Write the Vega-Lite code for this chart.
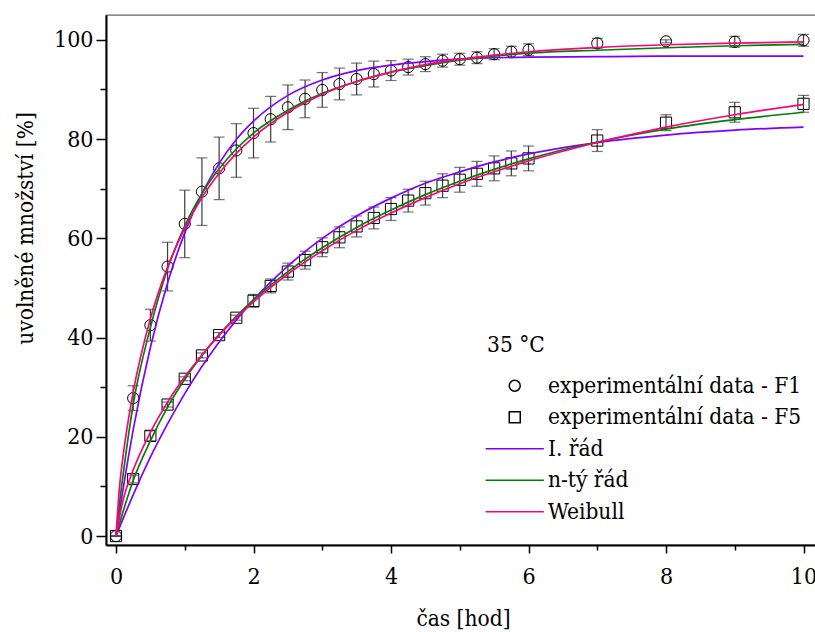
{
  "$schema": "https://vega.github.io/schema/vega-lite/v6.json",
  "width": 714,
  "height": 530,
  "autosize": {"type": "none"},
  "padding": {"left": 106, "top": 15, "right": 0, "bottom": 87},
  "config": {
    "font": "DejaVu Serif Condensed",
    "view": {"stroke": "#666", "strokeWidth": 1.3},
    "axis": {
      "labelFont": "DejaVu Serif Condensed", "titleFont": "DejaVu Serif Condensed",
      "labelFontSize": 23, "titleFontSize": 22.5, "titleFontWeight": "normal",
      "labelColor": "black", "titleColor": "black",
      "domainColor": "black", "domainWidth": 2, "tickColor": "black", "tickWidth": 1.5,
      "grid": false
    },
    "legend": {"labelFont": "DejaVu Serif Condensed", "titleFont": "DejaVu Serif Condensed"}
  },
  "datasets": {
    "points": [
      {"t": 0, "v": 0, "e": 0, "series": "experimentální data - F1"},
      {"t": 0.25, "v": 27.8, "e": 2.5, "series": "experimentální data - F1"},
      {"t": 0.5, "v": 42.5, "e": 3.2, "series": "experimentální data - F1"},
      {"t": 0.75, "v": 54.3, "e": 4.9, "series": "experimentální data - F1"},
      {"t": 1, "v": 62.9, "e": 6.8, "series": "experimentální data - F1"},
      {"t": 1.25, "v": 69.4, "e": 6.8, "series": "experimentální data - F1"},
      {"t": 1.5, "v": 74.1, "e": 6.3, "series": "experimentální data - F1"},
      {"t": 1.75, "v": 77.7, "e": 5.4, "series": "experimentální data - F1"},
      {"t": 2, "v": 81.2, "e": 5.0, "series": "experimentální data - F1"},
      {"t": 2.25, "v": 84.0, "e": 4.6, "series": "experimentální data - F1"},
      {"t": 2.5, "v": 86.4, "e": 4.5, "series": "experimentální data - F1"},
      {"t": 2.75, "v": 88.1, "e": 3.8, "series": "experimentální data - F1"},
      {"t": 3, "v": 89.9, "e": 3.5, "series": "experimentální data - F1"},
      {"t": 3.25, "v": 91.1, "e": 3.2, "series": "experimentální data - F1"},
      {"t": 3.5, "v": 92.1, "e": 3.2, "series": "experimentální data - F1"},
      {"t": 3.75, "v": 93.1, "e": 2.6, "series": "experimentální data - F1"},
      {"t": 4, "v": 93.8, "e": 2.0, "series": "experimentální data - F1"},
      {"t": 4.25, "v": 94.5, "e": 1.6, "series": "experimentální data - F1"},
      {"t": 4.5, "v": 95.1, "e": 1.5, "series": "experimentální data - F1"},
      {"t": 4.75, "v": 95.8, "e": 1.3, "series": "experimentální data - F1"},
      {"t": 5, "v": 96.1, "e": 1.2, "series": "experimentální data - F1"},
      {"t": 5.25, "v": 96.4, "e": 1.2, "series": "experimentální data - F1"},
      {"t": 5.5, "v": 97.1, "e": 1.1, "series": "experimentální data - F1"},
      {"t": 5.75, "v": 97.6, "e": 1.1, "series": "experimentální data - F1"},
      {"t": 6, "v": 98.0, "e": 1.2, "series": "experimentální data - F1"},
      {"t": 7, "v": 99.3, "e": 1.0, "series": "experimentální data - F1"},
      {"t": 8, "v": 99.7, "e": 0.3, "series": "experimentální data - F1"},
      {"t": 9, "v": 99.6, "e": 1.1, "series": "experimentální data - F1"},
      {"t": 10, "v": 99.9, "e": 1.2, "series": "experimentální data - F1"},
      {"t": 0, "v": 0, "e": 0, "series": "experimentální data - F5"},
      {"t": 0.25, "v": 11.5, "e": 0.8, "series": "experimentální data - F5"},
      {"t": 0.5, "v": 20.2, "e": 1.0, "series": "experimentální data - F5"},
      {"t": 0.75, "v": 26.5, "e": 0.5, "series": "experimentální data - F5"},
      {"t": 1, "v": 31.7, "e": 0.4, "series": "experimentální data - F5"},
      {"t": 1.25, "v": 36.4, "e": 0.5, "series": "experimentální data - F5"},
      {"t": 1.5, "v": 40.5, "e": 0.5, "series": "experimentální data - F5"},
      {"t": 1.75, "v": 44.0, "e": 0.5, "series": "experimentální data - F5"},
      {"t": 2, "v": 47.4, "e": 1.3, "series": "experimentální data - F5"},
      {"t": 2.25, "v": 50.4, "e": 1.4, "series": "experimentální data - F5"},
      {"t": 2.5, "v": 53.3, "e": 1.7, "series": "experimentální data - F5"},
      {"t": 2.75, "v": 55.6, "e": 1.8, "series": "experimentální data - F5"},
      {"t": 3, "v": 58.2, "e": 1.9, "series": "experimentální data - F5"},
      {"t": 3.25, "v": 60.2, "e": 2.1, "series": "experimentální data - F5"},
      {"t": 3.5, "v": 62.4, "e": 2.1, "series": "experimentální data - F5"},
      {"t": 3.75, "v": 64.1, "e": 2.2, "series": "experimentální data - F5"},
      {"t": 4, "v": 65.9, "e": 2.3, "series": "experimentální data - F5"},
      {"t": 4.25, "v": 67.6, "e": 2.3, "series": "experimentální data - F5"},
      {"t": 4.5, "v": 69.1, "e": 2.4, "series": "experimentální data - F5"},
      {"t": 4.75, "v": 70.6, "e": 2.4, "series": "experimentální data - F5"},
      {"t": 5, "v": 71.8, "e": 2.5, "series": "experimentální data - F5"},
      {"t": 5.25, "v": 73.0, "e": 2.5, "series": "experimentální data - F5"},
      {"t": 5.5, "v": 74.1, "e": 2.5, "series": "experimentální data - F5"},
      {"t": 5.75, "v": 75.1, "e": 2.5, "series": "experimentální data - F5"},
      {"t": 6, "v": 76.1, "e": 2.5, "series": "experimentální data - F5"},
      {"t": 7, "v": 79.7, "e": 2.2, "series": "experimentální data - F5"},
      {"t": 8, "v": 83.3, "e": 1.6, "series": "experimentální data - F5"},
      {"t": 9, "v": 85.4, "e": 2.0, "series": "experimentální data - F5"},
      {"t": 10, "v": 87.1, "e": 1.7, "series": "experimentální data - F5"}
    ],
    "curves": [
      {"grp": "F1", "series": "I. řád", "t": 0, "v": 0},
      {"grp": "F1", "series": "I. řád", "t": 0.05, "v": 4.7},
      {"grp": "F1", "series": "I. řád", "t": 0.1, "v": 9.2},
      {"grp": "F1", "series": "I. řád", "t": 0.25, "v": 21.4},
      {"grp": "F1", "series": "I. řád", "t": 0.5, "v": 38.0},
      {"grp": "F1", "series": "I. řád", "t": 0.75, "v": 51.0},
      {"grp": "F1", "series": "I. řád", "t": 1, "v": 61.1},
      {"grp": "F1", "series": "I. řád", "t": 1.25, "v": 69.0},
      {"grp": "F1", "series": "I. řád", "t": 1.5, "v": 75.1},
      {"grp": "F1", "series": "I. řád", "t": 1.75, "v": 79.9},
      {"grp": "F1", "series": "I. řád", "t": 2, "v": 83.6},
      {"grp": "F1", "series": "I. řád", "t": 2.5, "v": 88.8},
      {"grp": "F1", "series": "I. řád", "t": 3, "v": 91.9},
      {"grp": "F1", "series": "I. řád", "t": 3.5, "v": 93.8},
      {"grp": "F1", "series": "I. řád", "t": 4, "v": 94.9},
      {"grp": "F1", "series": "I. řád", "t": 4.5, "v": 95.6},
      {"grp": "F1", "series": "I. řád", "t": 5, "v": 96.1},
      {"grp": "F1", "series": "I. řád", "t": 6, "v": 96.5},
      {"grp": "F1", "series": "I. řád", "t": 7, "v": 96.6},
      {"grp": "F1", "series": "I. řád", "t": 8, "v": 96.7},
      {"grp": "F1", "series": "I. řád", "t": 9, "v": 96.7},
      {"grp": "F1", "series": "I. řád", "t": 10, "v": 96.7},
      {"grp": "F5", "series": "I. řád", "t": 0, "v": 0},
      {"grp": "F5", "series": "I. řád", "t": 0.1, "v": 3.4},
      {"grp": "F5", "series": "I. řád", "t": 0.25, "v": 8.3},
      {"grp": "F5", "series": "I. řád", "t": 0.5, "v": 15.9},
      {"grp": "F5", "series": "I. řád", "t": 0.75, "v": 22.6},
      {"grp": "F5", "series": "I. řád", "t": 1, "v": 28.7},
      {"grp": "F5", "series": "I. řád", "t": 1.5, "v": 39.1},
      {"grp": "F5", "series": "I. řád", "t": 2, "v": 47.6},
      {"grp": "F5", "series": "I. řád", "t": 2.5, "v": 54.4},
      {"grp": "F5", "series": "I. řád", "t": 3, "v": 60.0},
      {"grp": "F5", "series": "I. řád", "t": 3.5, "v": 64.5},
      {"grp": "F5", "series": "I. řád", "t": 4, "v": 68.1},
      {"grp": "F5", "series": "I. řád", "t": 4.5, "v": 71.1},
      {"grp": "F5", "series": "I. řád", "t": 5, "v": 73.4},
      {"grp": "F5", "series": "I. řád", "t": 5.5, "v": 75.4},
      {"grp": "F5", "series": "I. řád", "t": 6, "v": 77.0},
      {"grp": "F5", "series": "I. řád", "t": 7, "v": 79.3},
      {"grp": "F5", "series": "I. řád", "t": 8, "v": 80.8},
      {"grp": "F5", "series": "I. řád", "t": 9, "v": 81.8},
      {"grp": "F5", "series": "I. řád", "t": 10, "v": 82.4},
      {"grp": "F1", "series": "n-tý řád", "t": 0, "v": 0},
      {"grp": "F1", "series": "n-tý řád", "t": 0.05, "v": 6.5},
      {"grp": "F1", "series": "n-tý řád", "t": 0.1, "v": 12.0},
      {"grp": "F1", "series": "n-tý řád", "t": 0.25, "v": 26.5},
      {"grp": "F1", "series": "n-tý řád", "t": 0.5, "v": 42.0},
      {"grp": "F1", "series": "n-tý řád", "t": 0.75, "v": 53.8},
      {"grp": "F1", "series": "n-tý řád", "t": 1, "v": 62.5},
      {"grp": "F1", "series": "n-tý řád", "t": 1.25, "v": 69.0},
      {"grp": "F1", "series": "n-tý řád", "t": 1.5, "v": 74.0},
      {"grp": "F1", "series": "n-tý řád", "t": 1.75, "v": 78.0},
      {"grp": "F1", "series": "n-tý řád", "t": 2, "v": 81.2},
      {"grp": "F1", "series": "n-tý řád", "t": 2.5, "v": 85.8},
      {"grp": "F1", "series": "n-tý řád", "t": 3, "v": 89.2},
      {"grp": "F1", "series": "n-tý řád", "t": 3.5, "v": 91.6},
      {"grp": "F1", "series": "n-tý řád", "t": 4, "v": 93.5},
      {"grp": "F1", "series": "n-tý řád", "t": 4.5, "v": 94.8},
      {"grp": "F1", "series": "n-tý řád", "t": 5, "v": 95.9},
      {"grp": "F1", "series": "n-tý řád", "t": 5.5, "v": 96.7},
      {"grp": "F1", "series": "n-tý řád", "t": 6, "v": 97.3},
      {"grp": "F1", "series": "n-tý řád", "t": 7, "v": 97.9},
      {"grp": "F1", "series": "n-tý řád", "t": 8, "v": 98.4},
      {"grp": "F1", "series": "n-tý řád", "t": 9, "v": 98.8},
      {"grp": "F1", "series": "n-tý řád", "t": 10, "v": 99.1},
      {"grp": "F5", "series": "n-tý řád", "t": 0, "v": 0},
      {"grp": "F5", "series": "n-tý řád", "t": 0.1, "v": 4.8},
      {"grp": "F5", "series": "n-tý řád", "t": 0.25, "v": 11.2},
      {"grp": "F5", "series": "n-tý řád", "t": 0.5, "v": 19.2},
      {"grp": "F5", "series": "n-tý řád", "t": 0.75, "v": 26.0},
      {"grp": "F5", "series": "n-tý řád", "t": 1, "v": 31.6},
      {"grp": "F5", "series": "n-tý řád", "t": 1.25, "v": 36.4},
      {"grp": "F5", "series": "n-tý řád", "t": 1.5, "v": 40.6},
      {"grp": "F5", "series": "n-tý řád", "t": 1.75, "v": 44.3},
      {"grp": "F5", "series": "n-tý řád", "t": 2, "v": 47.6},
      {"grp": "F5", "series": "n-tý řád", "t": 2.5, "v": 53.3},
      {"grp": "F5", "series": "n-tý řád", "t": 3, "v": 58.1},
      {"grp": "F5", "series": "n-tý řád", "t": 3.5, "v": 62.2},
      {"grp": "F5", "series": "n-tý řád", "t": 4, "v": 65.7},
      {"grp": "F5", "series": "n-tý řád", "t": 4.5, "v": 68.8},
      {"grp": "F5", "series": "n-tý řád", "t": 5, "v": 71.5},
      {"grp": "F5", "series": "n-tý řád", "t": 5.5, "v": 73.9},
      {"grp": "F5", "series": "n-tý řád", "t": 6, "v": 76.0},
      {"grp": "F5", "series": "n-tý řád", "t": 7, "v": 79.4},
      {"grp": "F5", "series": "n-tý řád", "t": 8, "v": 82.0},
      {"grp": "F5", "series": "n-tý řád", "t": 9, "v": 83.9},
      {"grp": "F5", "series": "n-tý řád", "t": 10, "v": 85.4},
      {"grp": "F1", "series": "Weibull", "t": 0, "v": 0},
      {"grp": "F1", "series": "Weibull", "t": 0.05, "v": 9.7},
      {"grp": "F1", "series": "Weibull", "t": 0.1, "v": 15.8},
      {"grp": "F1", "series": "Weibull", "t": 0.25, "v": 29.0},
      {"grp": "F1", "series": "Weibull", "t": 0.5, "v": 43.8},
      {"grp": "F1", "series": "Weibull", "t": 0.75, "v": 54.2},
      {"grp": "F1", "series": "Weibull", "t": 1, "v": 62.0},
      {"grp": "F1", "series": "Weibull", "t": 1.25, "v": 68.2},
      {"grp": "F1", "series": "Weibull", "t": 1.5, "v": 73.1},
      {"grp": "F1", "series": "Weibull", "t": 1.75, "v": 77.1},
      {"grp": "F1", "series": "Weibull", "t": 2, "v": 80.4},
      {"grp": "F1", "series": "Weibull", "t": 2.5, "v": 85.4},
      {"grp": "F1", "series": "Weibull", "t": 3, "v": 89.0},
      {"grp": "F1", "series": "Weibull", "t": 3.5, "v": 91.6},
      {"grp": "F1", "series": "Weibull", "t": 4, "v": 93.5},
      {"grp": "F1", "series": "Weibull", "t": 4.5, "v": 95.0},
      {"grp": "F1", "series": "Weibull", "t": 5, "v": 96.1},
      {"grp": "F1", "series": "Weibull", "t": 5.5, "v": 96.9},
      {"grp": "F1", "series": "Weibull", "t": 6, "v": 97.6},
      {"grp": "F1", "series": "Weibull", "t": 7, "v": 98.45},
      {"grp": "F1", "series": "Weibull", "t": 8, "v": 99.0},
      {"grp": "F1", "series": "Weibull", "t": 9, "v": 99.35},
      {"grp": "F1", "series": "Weibull", "t": 10, "v": 99.57},
      {"grp": "F5", "series": "Weibull", "t": 0, "v": 0},
      {"grp": "F5", "series": "Weibull", "t": 0.1, "v": 7.1},
      {"grp": "F5", "series": "Weibull", "t": 0.25, "v": 13.3},
      {"grp": "F5", "series": "Weibull", "t": 0.5, "v": 20.9},
      {"grp": "F5", "series": "Weibull", "t": 0.75, "v": 27.0},
      {"grp": "F5", "series": "Weibull", "t": 1, "v": 32.1},
      {"grp": "F5", "series": "Weibull", "t": 1.25, "v": 36.5},
      {"grp": "F5", "series": "Weibull", "t": 1.5, "v": 40.5},
      {"grp": "F5", "series": "Weibull", "t": 1.75, "v": 44.0},
      {"grp": "F5", "series": "Weibull", "t": 2, "v": 47.2},
      {"grp": "F5", "series": "Weibull", "t": 2.5, "v": 52.8},
      {"grp": "F5", "series": "Weibull", "t": 3, "v": 57.5},
      {"grp": "F5", "series": "Weibull", "t": 3.5, "v": 61.6},
      {"grp": "F5", "series": "Weibull", "t": 4, "v": 65.1},
      {"grp": "F5", "series": "Weibull", "t": 4.5, "v": 68.2},
      {"grp": "F5", "series": "Weibull", "t": 5, "v": 71.0},
      {"grp": "F5", "series": "Weibull", "t": 5.5, "v": 73.4},
      {"grp": "F5", "series": "Weibull", "t": 6, "v": 75.6},
      {"grp": "F5", "series": "Weibull", "t": 7, "v": 79.3},
      {"grp": "F5", "series": "Weibull", "t": 8, "v": 82.4},
      {"grp": "F5", "series": "Weibull", "t": 9, "v": 84.9},
      {"grp": "F5", "series": "Weibull", "t": 10, "v": 87.0}
    ]
  },
  "encoding": {
    "x": {
      "field": "t", "type": "quantitative",
      "scale": {"domain": [-0.1455, 10.24], "nice": false, "zero": false},
      "axis": {
        "title": "čas [hod]",
        "values": [0, 1, 2, 3, 4, 5, 6, 7, 8, 9, 10],
        "labelExpr": "datum.value % 2 === 0 ? datum.label : ''",
        "tickSize": {"condition": {"test": "datum.value % 2 === 0", "value": 8}, "value": 5},
        "labelPadding": 12, "titlePadding": 19, "labelFlush": false, "labelOverlap": false
      }
    },
    "y": {
      "field": "v", "type": "quantitative",
      "scale": {"domain": [-1.8, 105], "nice": false, "zero": false},
      "axis": {
        "title": "uvolněné množství [%]",
        "values": [0, 10, 20, 30, 40, 50, 60, 70, 80, 90, 100],
        "labelExpr": "datum.value % 20 === 0 ? datum.label : ''",
        "tickSize": {"condition": {"test": "datum.value % 20 === 0", "value": 10}, "value": 6},
        "labelPadding": 3, "labelFlush": false, "labelOverlap": false,
        "titleX": -81, "titleY": 213, "titleBaseline": "middle", "titleAlign": "center"
      }
    }
  },
  "layer": [
    {
      "data": {"name": "points"},
      "mark": {"type": "errorbar", "color": "#3a3a3a", "thickness": 1.2, "ticks": {"size": 11, "color": "#3a3a3a", "thickness": 1.2}},
      "encoding": {
        "x": {"field": "t", "type": "quantitative"},
        "y": {"field": "v", "type": "quantitative"},
        "yError": {"field": "e"}
      }
    },
    {
      "data": {"name": "points"},
      "mark": {"type": "point", "filled": false, "opacity": 1, "size": 125, "strokeWidth": 1},
      "encoding": {
        "color": {
          "field": "series", "type": "nominal",
          "scale": {
            "domain": ["experimentální data - F1", "experimentální data - F5", "I. řád", "n-tý řád", "Weibull"],
            "range": ["black", "black", "#8000ff", "#008000", "#ff0080"]
          },
          "legend": {
            "title": "35 °C", "orient": "none", "legendX": 381, "legendY": 319,
            "titleFontSize": 22.5, "titleFontWeight": "normal", "titleColor": "black", "titlePadding": 18,
            "labelFontSize": 22.5, "labelColor": "black", "labelLimit": 500, "labelOffset": 22,
            "symbolOffset": 16.5, "symbolSize": 121, "symbolStrokeWidth": 1.5, "rowPadding": 8.5, "padding": 0,
            "encode": {"symbols": {"update": {"fill": {"value": "transparent"}, "opacity": {"value": 1}, "strokeWidth": {"value": 1.5}}}}
          }
        },
        "shape": {
          "field": "series", "type": "nominal",
          "scale": {
            "domain": ["experimentální data - F1", "experimentální data - F5", "I. řád", "n-tý řád", "Weibull"],
            "range": ["circle", "square", "M-5.3,0H5.3", "M-5.3,0H5.3", "M-5.3,0H5.3"]
          },
          "legend": {
            "title": "35 °C", "orient": "none", "legendX": 381, "legendY": 319,
            "titleFontSize": 22.5, "titleFontWeight": "normal", "titleColor": "black", "titlePadding": 18,
            "labelFontSize": 22.5, "labelColor": "black", "labelLimit": 500, "labelOffset": 22,
            "symbolOffset": 16.5, "symbolSize": 121, "symbolStrokeWidth": 1.5, "rowPadding": 8.5, "padding": 0,
            "encode": {"symbols": {"update": {"fill": {"value": "transparent"}, "opacity": {"value": 1}, "strokeWidth": {"value": 1.5}}}}
          }
        }
      }
    },
    {
      "data": {"name": "curves"},
      "mark": {"type": "line", "strokeWidth": 1.7, "interpolate": "monotone"},
      "encoding": {
        "color": {"field": "series", "type": "nominal"},
        "detail": {"field": "grp", "type": "nominal"}
      }
    }
  ]
}
